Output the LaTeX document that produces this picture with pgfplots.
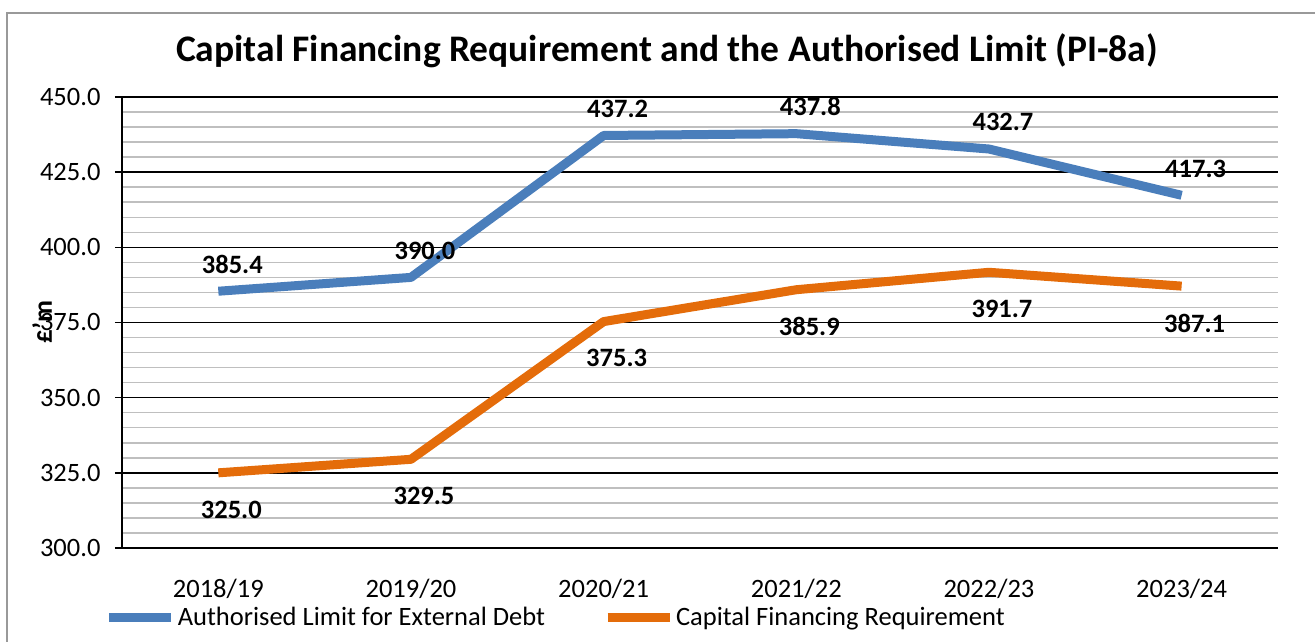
\documentclass[border=0pt]{standalone}
\usepackage{pgfplots}
\pgfplotsset{compat=1.18}
\usepackage{fontspec}
\setmainfont{Carlito}
\definecolor{cblue}{HTML}{4A7EBB}
\definecolor{corange}{HTML}{E46C0A}
\definecolor{cgrid}{HTML}{BFBFBF}
\begin{document}
\begin{tikzpicture}[x=1pt,y=1pt]
\path[use as bounding box] (0,0) rectangle (1315,642);
\begin{scope}
\clip (0,0) rectangle (1315,642);
\draw[color=gray!80, line width=2pt] (7,-20) -- (7,629) -- (1340,629);
\end{scope}
\node[font=\fontsize{37.5}{42}\selectfont\bfseries] at (667,591) {Capital Financing Requirement and the Authorised Limit (PI-8a)};
\node[font=\fontsize{27}{30}\selectfont\bfseries, rotate=90] at (42,320) {£'m};
\begin{axis}[
  at={(122pt,94pt)}, anchor=south west,
  scale only axis, width=1156pt, height=451pt,
  xmin=-0.5, xmax=5.5, ymin=300, ymax=450,
  axis x line*=bottom, axis y line*=left,
  axis line style={black, line width=1.5pt, -},
  xtick={0,...,5},
  xticklabels={2018/19,2019/20,2020/21,2021/22,2022/23,2023/24},
  x tick style={draw=none},
  extra x ticks={-0.5,0.5,1.5,2.5,3.5,4.5,5.5},
  extra x tick labels={},
  extra x tick style={tick style={black, line width=1.5pt}, major tick length=7pt, grid=none},
  ytick={300,325,...,450},
  minor ytick={305,310,315,320,330,335,340,345,355,360,365,370,380,385,390,395,405,410,415,420,430,435,440,445},
  ymajorgrids, yminorgrids,
  major grid style={black, line width=1.5pt},
  minor grid style={cgrid, line width=1.5pt},
  y tick style={black, line width=1.5pt},
  tick align=outside, major tick length=7pt, minor tick length=0pt,
  yticklabel style={/pgf/number format/fixed, /pgf/number format/fixed zerofill, /pgf/number format/precision=1, xshift=-11pt},
  /pgf/number format/assume math mode=true,
  ticklabel style={font=\fontsize{26.5}{30}\selectfont},
  xticklabel style={yshift=-21pt},
  legend style={at={(-0.015,-0.153)}, anchor=west, draw=none, fill=none, legend columns=2,
    font=\fontsize{26.5}{30}\selectfont, /tikz/every even column/.append style={column sep=56pt},
    inner sep=0pt},
  legend image code/.code={\draw[#1, line width=9pt] (0pt,0pt) -- (62pt,0pt);},
  clip=false,
  nodes near coords,
  point meta=explicit symbolic,
]
\addplot[cblue, line width=9pt, line join=round,
  every node near coord/.append style={anchor=south, yshift=10pt, xshift=14pt, text=black, font=\fontsize{26.5}{30}\selectfont\bfseries}]
  table[meta=label] {
x y label
0 385.4 385.4
1 390.0 390.0
2 437.2 437.2
3 437.8 437.8
4 432.7 432.7
5 417.3 417.3
};
\addlegendentry{Authorised Limit for External Debt}
\addplot[corange, line width=9pt, line join=round,
  every node near coord/.append style={anchor=north, yshift=-20pt, xshift=13pt, text=black, font=\fontsize{26.5}{30}\selectfont\bfseries}]
  table[meta=label] {
x y label
0 325.0 325.0
1 329.5 329.5
2 375.3 375.3
3 385.9 385.9
4 391.7 391.7
5 387.1 387.1
};
\addlegendentry{Capital Financing Requirement}
\end{axis}
\end{tikzpicture}
\end{document}
